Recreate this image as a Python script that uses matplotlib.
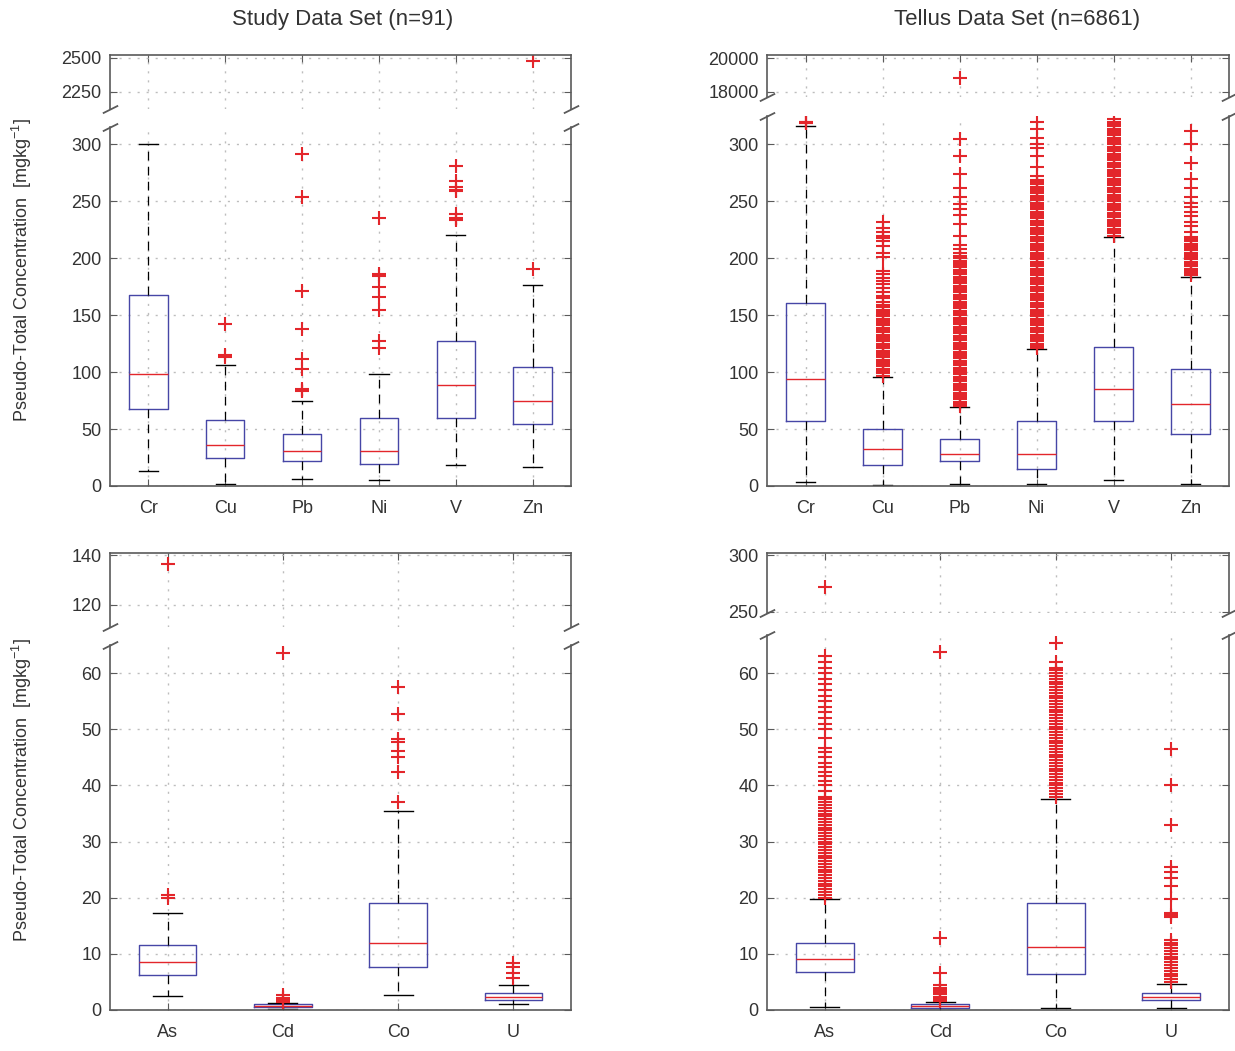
import numpy as np
import matplotlib
matplotlib.use("Agg")
import matplotlib.pyplot as plt

plt.rcParams['font.family'] = ['Liberation Sans', 'DejaVu Sans']
plt.rcParams['mathtext.default'] = 'regular'

# ---- data (mg/kg) ----
major_labels = ["Cr", "Cu", "Pb", "Ni", "V", "Zn"]
trace_labels = ["As", "Cd", "Co", "U"]

# Study data set, major elements
study_major_q1 = [68, 25, 22, 19.6, 59.5, 54]
study_major_med = [98, 36, 31, 31, 89, 75]
study_major_q3 = [167.7, 58, 45.5, 60, 127.6, 104]
study_major_lo = [13, 1.5, 6, 5, 18.5, 16.7]
study_major_hi = [300, 106, 75, 98, 220.5, 176]
study_major_fliers = [
    [],
    [113, 115, 142],
    [83, 84, 85.5, 102.5, 111, 138, 171.5, 253.5, 291],
    [121.5, 127.5, 154, 165.5, 174.5, 184, 186, 235],
    [233, 234, 235.5, 239, 259, 260, 262.5, 268, 280.5],
    [190.5, 2480],
]

# Tellus data set, major elements
tellus_major_q1 = [57.2, 18.5, 22, 14.7, 57, 46]
tellus_major_med = [93.8, 32.3, 28.4, 28.4, 85, 72.4]
tellus_major_q3 = [160.7, 49.9, 41, 57.2, 122, 102.6]
tellus_major_lo = [3.8, 1.0, 1.5, 1.5, 5, 1.5]
tellus_major_hi = [316, 96, 69, 120, 219, 184]
tellus_major_fliers = [
    [318.5, 319, 319.5, 320],
    [97, 99, 101, 103, 105, 107, 109, 111, 113, 115, 117, 119, 121, 123, 125,
     127, 129, 131, 133, 135, 137, 139, 141, 143, 145, 147, 149, 151, 153, 155,
     157, 159, 162, 165, 167, 170, 174, 177, 180, 183, 186, 189, 201, 205, 211,
     215, 218, 220, 223, 227, 232],
    [70, 72, 74, 76, 78, 80, 82, 84, 86, 88, 90, 92, 94, 96, 98, 100, 102, 104,
     106, 108, 110, 112, 114, 116, 118, 120, 122, 124, 126, 128, 130, 132, 134,
     136, 138, 140, 142, 144, 146, 148, 150, 152, 154, 156, 158, 160, 162, 164,
     166, 168, 170, 172, 174, 176, 178, 180, 182, 184, 186, 188, 190, 192, 194,
     196, 198, 200, 202, 205, 208, 212, 220, 230, 238, 243, 248, 254, 262, 274,
     290, 305, 18850],
    [121, 123, 125, 127, 129, 131, 133, 135, 137, 139, 141, 143, 145, 147, 149,
     151, 153, 155, 157, 159, 161, 163, 165, 167, 169, 171, 173, 175, 177, 179,
     181, 183, 185, 187, 189, 191, 193, 195, 197, 199, 201, 203, 205, 207, 209,
     211, 213, 215, 217, 219, 221, 223, 225, 227, 229, 231, 233, 235, 237, 239,
     241, 243, 245, 247, 249, 251, 253, 255, 257, 259, 261, 263, 265, 267, 269,
     272, 280, 290, 297, 300, 306, 314, 320],
    [220, 222, 224, 226, 228, 230, 232, 234, 236, 238, 240, 242, 244, 246, 248,
     250, 252, 254, 256, 258, 260, 262, 264, 266, 268, 270, 272, 274, 276, 278,
     280, 282, 284, 286, 288, 290, 292, 294, 296, 298, 300, 302, 304, 306, 308,
     310, 312, 314, 316, 318, 320, 322],
    [185, 187, 189, 191, 193, 195, 197, 199, 201, 203, 205, 207, 209, 211, 213,
     215, 217, 219, 223, 228, 232, 237, 241, 245, 249, 254, 262, 270, 284, 300,
     312],
]

# Study data set, trace elements
study_trace_q1 = [6.2, 0.55, 7.6, 1.75]
study_trace_med = [8.6, 0.8, 12, 2.4]
study_trace_q3 = [11.6, 1.05, 19, 3.05]
study_trace_lo = [2.55, 0.2, 2.6, 1.15]
study_trace_hi = [17.2, 1.3, 35.4, 4.4]
study_trace_fliers = [
    [20, 20.4, 136.5],
    [1.4, 1.6, 1.9, 2.2, 2.6, 63.5],
    [37.1, 42.3, 45.1, 46.2, 47.8, 48.2, 52.8, 57.6],
    [5.7, 6.6, 7.6, 8.4],
]

# Tellus data set, trace elements
tellus_trace_q1 = [6.8, 0.4, 6.5, 1.8]
tellus_trace_med = [9.0, 0.7, 11.2, 2.4]
tellus_trace_q3 = [11.9, 1.0, 19.0, 3.0]
tellus_trace_lo = [0.5, 0.05, 0.3, 0.3]
tellus_trace_hi = [19.7, 1.5, 37.5, 4.7]
tellus_trace_fliers = [
    [20.0, 20.5, 21.0, 21.5, 22.0, 22.5, 23.0, 23.5, 24.0, 24.5, 25.0, 25.5,
     26.0, 26.5, 27.0, 27.5, 28.0, 28.5, 29.0, 29.5, 30.0, 30.5, 31.0, 31.5,
     32.0, 32.5, 33.0, 33.5, 34.0, 34.5, 35.0, 35.5, 36.0, 36.5, 37.0, 37.5,
     38.0, 39.0, 40.0, 40.8, 41.6, 42.4, 43.2, 44.0, 45.0, 46.0, 46.6, 48.4,
     50.0, 51.0, 52.0, 53.0, 54.0, 55.0, 56.0, 57.0, 58.0, 59.0, 60.0, 61.0,
     62.0, 63.0, 272],
    [1.6, 2.0, 2.4, 2.8, 3.2, 3.6, 4.0, 4.5, 6.6, 12.9, 63.7],
    [38.0, 38.5, 39.0, 39.5, 40.0, 40.5, 41.0, 41.5, 42.0, 42.5, 43.0, 43.5,
     44.0, 44.5, 45.0, 45.5, 46.0, 46.5, 47.0, 47.5, 48.0, 48.5, 49.0, 49.5,
     50.0, 50.5, 51.0, 51.5, 52.0, 52.5, 53.0, 53.5, 54.0, 54.5, 55.0, 55.5,
     56.0, 56.5, 57.0, 57.5, 58.0, 58.5, 59.0, 59.5, 60.0, 60.5, 61.0, 62.0,
     65.3],
    [5.0, 5.5, 6.0, 6.5, 7.0, 7.5, 8.0, 8.5, 9.0, 9.5, 10.0, 10.5, 11.0, 11.5,
     12.0, 12.5, 16.6, 16.9, 17.2, 19.8, 22.0, 23.5, 24.5, 25.5, 33.0, 40.0,
     46.5],
]

W, H = 1235, 1051
BLUE = '#4646a6'
RED = '#e3262b'
SPINE = '#5a5a5a'


def make_stats(labels, q1, med, q3, lo, hi, fliers):
    return [dict(label=l, q1=a, med=m, q3=b, whislo=w0, whishi=w1,
                 fliers=np.array(f, dtype=float))
            for l, a, m, b, w0, w1, f in zip(labels, q1, med, q3, lo, hi, fliers)]


def rect(left, top, right, bottom):
    # pixel box -> figure fraction
    return [left / W, 1 - bottom / H, (right - left) / W, (bottom - top) / H]


fig = plt.figure(figsize=(W / 100, H / 100), dpi=100)


def draw_panel(stats, r_top, r_main, lim_top, lim_main, ticks_top, ticks_main):
    n = len(stats)
    ax_t = fig.add_axes(r_top)
    ax_m = fig.add_axes(r_main)
    for ax in (ax_t, ax_m):
        ax.bxp(stats, positions=range(1, n + 1), widths=0.5, capwidths=0.25,
               boxprops=dict(color=BLUE, lw=1.0),
               medianprops=dict(color=RED, lw=1.0),
               whiskerprops=dict(color='k', lw=0.9, linestyle=(0, (7, 5))),
               capprops=dict(color='k', lw=1.0),
               flierprops=dict(marker='+', markeredgecolor=RED, markersize=10,
                               markeredgewidth=1.5, linestyle='none'))
        ax.set_xlim(0.5, n + 0.5)
        ax.grid(True, color='#bdbdbd', lw=1.0, linestyle=(0, (1.5, 5)))
        ax.set_axisbelow(True)
        ax.tick_params(direction='in', length=5, top=True, right=True,
                       color=SPINE, labelcolor='#333333', labelsize=13)
        for s in ax.spines.values():
            s.set_color(SPINE)
            s.set_linewidth(1.2)
    ax_t.set_ylim(lim_top)
    ax_m.set_ylim(lim_main)
    ax_t.set_yticks(ticks_top)
    ax_m.set_yticks(ticks_main)
    ax_t.spines['bottom'].set_visible(False)
    ax_m.spines['top'].set_visible(False)
    ax_t.tick_params(bottom=False, labelbottom=False)
    ax_m.tick_params(top=False)
    ax_m.tick_params(axis='x', pad=10)
    ax_m.tick_params(axis='y', pad=6)
    ax_t.tick_params(axis='y', pad=6)
    # break marks
    kw = dict(marker=[(-1, -0.5), (1, 0.5)], markersize=11, linestyle='none',
              color=SPINE, mec=SPINE, mew=1.3, clip_on=False)
    ax_t.plot([0, 1], [0, 0], transform=ax_t.transAxes, **kw)
    ax_m.plot([0, 1], [1, 1], transform=ax_m.transAxes, **kw)
    return ax_t, ax_m


draw_panel(make_stats(major_labels, study_major_q1, study_major_med, study_major_q3,
                      study_major_lo, study_major_hi, study_major_fliers),
           rect(110, 55, 571, 109), rect(110, 127, 571, 486),
           (2125, 2522), (0, 315), [2250, 2500], list(range(0, 301, 50)))

draw_panel(make_stats(major_labels, tellus_major_q1, tellus_major_med, tellus_major_q3,
                      tellus_major_lo, tellus_major_hi, tellus_major_fliers),
           rect(767, 55, 1229, 97), rect(767, 116, 1229, 486),
           (17700, 20180), (0, 325), [18000, 20000], list(range(0, 301, 50)))

draw_panel(make_stats(trace_labels, study_trace_q1, study_trace_med, study_trace_q3,
                      study_trace_lo, study_trace_hi, study_trace_fliers),
           rect(110, 553, 571, 627), rect(110, 645, 571, 1010),
           (111, 141), (0, 65), [120, 140], list(range(0, 61, 10)))

draw_panel(make_stats(trace_labels, tellus_trace_q1, tellus_trace_med, tellus_trace_q3,
                      tellus_trace_lo, tellus_trace_hi, tellus_trace_fliers),
           rect(767, 553, 1229, 613), rect(767, 635, 1229, 1010),
           (249, 302), (0, 66.8), [250, 300], list(range(0, 61, 10)))

fig.text(343 / W, 1 - 19 / H, "Study Data Set (n=91)", ha='center', va='center',
         fontsize=16, color='#333333')
fig.text(1017 / W, 1 - 19 / H, "Tellus Data Set (n=6861)", ha='center', va='center',
         fontsize=16, color='#333333')

ylab = "Pseudo-Total Concentration  [mgkg$^{-1}$]"
fig.text(22 / W, 1 - 270 / H, ylab, rotation=90, ha='center', va='center',
         fontsize=13, color='#333333')
fig.text(22 / W, 1 - 790 / H, ylab, rotation=90, ha='center', va='center',
         fontsize=13, color='#333333')

fig.savefig("out.png", dpi=100)
